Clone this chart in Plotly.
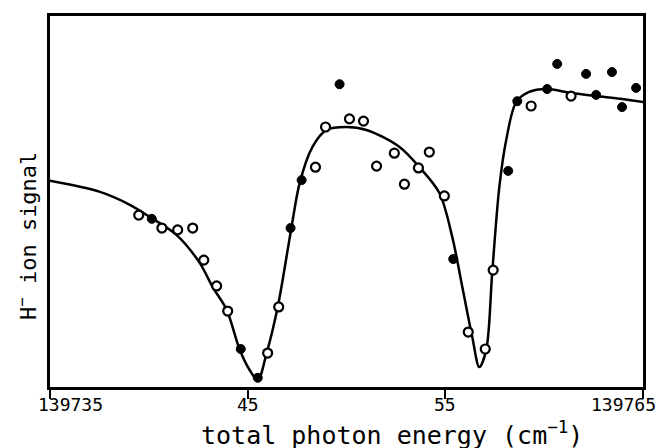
import plotly.graph_objects as go

# Fitted curve (energy in cm^-1, signal in arbitrary units 0..100)
curve_energy = [139735.0, 139737.53, 139739.04, 139740.05, 139741.41, 139742.58, 139743.23,
                139743.94, 139744.60, 139745.10, 139745.51, 139745.96, 139746.52, 139747.22,
                139747.63, 139748.28, 139748.99, 139750.00, 139751.01, 139752.68, 139753.69,
                139754.70, 139755.35, 139755.86, 139756.36, 139756.72, 139757.07, 139757.37,
                139757.73, 139758.08, 139758.59, 139759.24, 139760.10, 139761.41, 139762.63,
                139763.94, 139765.0]
curve_signal = [55.6, 52.6, 49.1, 45.8, 40.9, 33.3, 26.8,
                20.6, 9.8, 4.3, 1.6, 8.9, 21.4, 43.1,
                55.0, 64.8, 69.4, 70.2, 69.4, 64.8, 59.3,
                52.3, 40.4, 26.8, 13.3, 5.1, 9.8, 30.6,
                53.9, 66.7, 77.0, 79.7, 80.5, 79.4, 78.6,
                77.8, 77.0]

# Measured points, open symbols
open_energy = [139739.49, 139740.66, 139741.46, 139742.22, 139742.78, 139743.43, 139743.99,
               139746.01, 139746.57, 139748.43, 139748.94, 139750.15, 139750.86, 139751.52,
               139752.42, 139752.93, 139753.64, 139754.19, 139754.95, 139756.16, 139757.02,
               139757.42, 139759.34, 139761.36]
open_signal = [46.3, 42.8, 42.3, 42.8, 34.1, 27.1, 20.3,
               8.9, 21.4, 59.3, 70.2, 72.4, 71.8, 59.6,
               63.1, 54.7, 59.1, 63.4, 51.5, 14.6, 10.0,
               31.4, 75.9, 78.6]

# Measured points, filled symbols
filled_energy = [139740.15, 139744.65, 139745.51, 139747.17, 139747.73, 139749.65, 139755.40,
                 139758.18, 139758.64, 139760.15, 139760.66, 139762.12, 139762.63, 139763.43,
                 139763.94, 139764.65]
filled_signal = [45.3, 10.0, 2.2, 42.8, 55.8, 81.8, 34.4,
                 58.3, 77.2, 80.5, 87.3, 84.6, 78.9, 85.1,
                 75.6, 80.8]

tick_vals = [139735, 139745, 139755, 139765]
tick_text = ["139735", "45", "55", "139765"]
tick_shift = [20, 0, 0, -20]

MONO = "DejaVu Sans Mono"

fig = go.Figure()
fig.add_trace(go.Scatter(x=curve_energy, y=curve_signal, mode="lines",
                         line=dict(color="black", width=2.5, shape="spline", smoothing=0.9),
                         hoverinfo="skip"))
fig.add_trace(go.Scatter(x=open_energy, y=open_signal, mode="markers",
                         marker=dict(symbol="circle", size=9, color="white",
                                     line=dict(color="black", width=2.2))))
fig.add_trace(go.Scatter(x=filled_energy, y=filled_signal, mode="markers",
                         marker=dict(symbol="circle", size=9, color="black",
                                     line=dict(color="black", width=1))))

annotations = []
for v, t, s in zip(tick_vals, tick_text, tick_shift):
    annotations.append(dict(x=v, xref="x", y=-0.046, yref="paper", text=t,
                            showarrow=False, xanchor="center", yanchor="middle",
                            xshift=s, font=dict(family=MONO, size=18, color="black")))
annotations.append(dict(x=0.577, y=-0.126, xref="paper", yref="paper",
                        text="total photon energy (cm<sup>−1</sup>)", showarrow=False,
                        xanchor="center", yanchor="middle",
                        font=dict(family=MONO, size=25, color="black")))
annotations.append(dict(x=-0.039, y=0.407, xref="paper", yref="paper",
                        text="H<sup>−</sup> ion signal", showarrow=False, textangle=-90,
                        xanchor="center", yanchor="middle",
                        font=dict(family=MONO, size=22, color="black")))

fig.update_layout(
    width=658, height=448,
    margin=dict(l=50, r=15, t=16, b=61),
    paper_bgcolor="white", plot_bgcolor="white",
    showlegend=False,
    annotations=annotations,
    xaxis=dict(range=[139735, 139765], tickvals=tick_vals, showticklabels=False,
               ticks="outside", ticklen=9, tickwidth=2, tickcolor="black",
               showline=True, linecolor="black", linewidth=2.5, mirror=True,
               showgrid=False, zeroline=False),
    yaxis=dict(range=[-0.3, 100.3], showticklabels=False, ticks="",
               showline=True, linecolor="black", linewidth=2.5, mirror=True,
               showgrid=False, zeroline=False),
)

fig.write_html("out.html", config={"displayModeBar": False},
               post_script="document.body.style.margin='0';document.body.style.overflow='hidden';")
